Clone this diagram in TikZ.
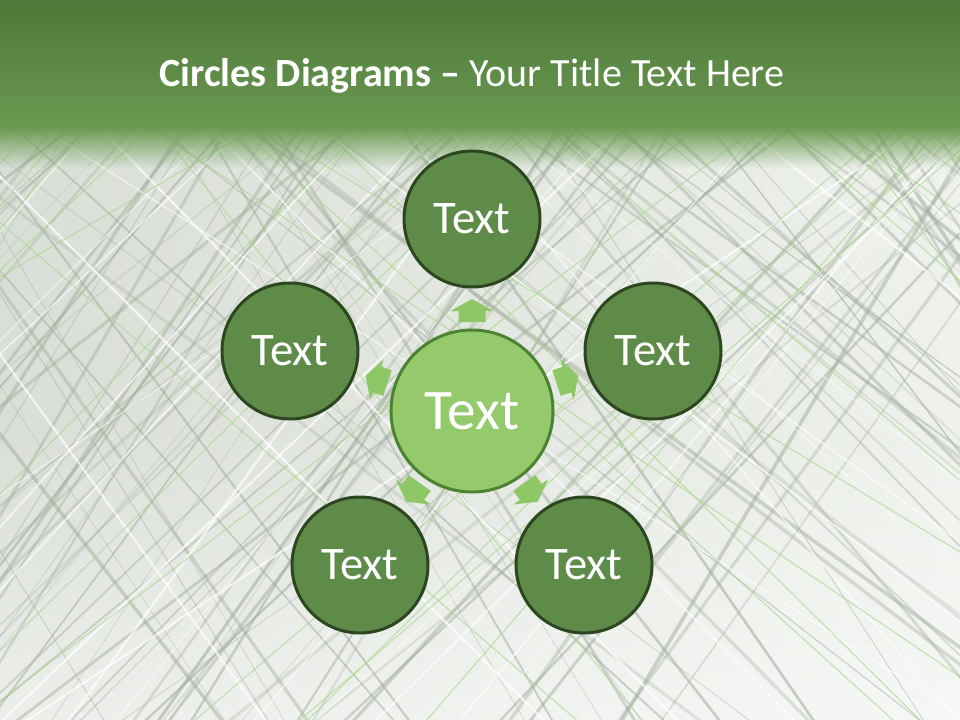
\documentclass[tikz,border=0pt]{standalone}
\usepackage{fontspec}
\setmainfont{Carlito}
\usetikzlibrary{fadings}
\definecolor{hdtop}{HTML}{4E7839}
\definecolor{hdbot}{HTML}{6A9A52}
\definecolor{bgbase}{HTML}{D9DED6}
\definecolor{bgright}{HTML}{EEF1EC}
\definecolor{lgray}{HTML}{A3AD9F}
\definecolor{lgreen}{HTML}{A6DA8C}
\definecolor{outerfill}{HTML}{5F8B49}
\definecolor{outerline}{HTML}{2C4720}
\definecolor{centerfill}{HTML}{94C96C}
\definecolor{centerline}{HTML}{4C8231}
\definecolor{arrowfill}{HTML}{8DC766}
\tikzset{
  outer/.style={circle, draw=outerline, line width=2.25pt, fill=outerfill,
    minimum size=102pt, inner sep=0pt, text=white, font=\fontsize{35}{40}\selectfont},
  center/.style={circle, draw=centerline, line width=2.25pt, fill=centerfill,
    minimum size=121.5pt, inner sep=0pt, text=white, font=\fontsize{43}{48}\selectfont},
  blockarrow/.style={fill=arrowfill, draw=none},
}
\begin{document}
\begin{tikzpicture}[x=0.75pt, y=-0.75pt]
\useasboundingbox (0,0) rectangle (960,720);
\begin{scope}
\clip (0,0) rectangle (960,720);
\shade[left color=bgbase, right color=bgright] (0,0) rectangle (960,720);
\fill[white, opacity=0.5, path fading=north] (0,420) rectangle (960,720);
\pgfmathsetseed{23}
\foreach \i in {1,...,160}{
  \pgfmathsetmacro{\xx}{rnd*1800-420}
  \pgfmathsetmacro{\ang}{ifthenelse(rnd<0.5, 35+rnd*25, 120+rnd*25)}
  \pgfmathsetmacro{\lw}{0.4+rnd*2.4}
  \pgfmathsetmacro{\op}{0.22+rnd*0.35}
  \draw[lgray, line width=\lw pt, opacity=\op] (\xx,-100) -- ++(\ang:1600);
}
\foreach \i in {1,...,70}{
  \pgfmathsetmacro{\xx}{rnd*1800-420}
  \pgfmathsetmacro{\ang}{ifthenelse(rnd<0.5, 30+rnd*25, 125+rnd*25)}
  \pgfmathsetmacro{\lw}{0.3+rnd*1.6}
  \draw[white, line width=\lw pt, opacity=0.7] (\xx,-100) -- ++(\ang:1600);
}
\foreach \i in {1,...,40}{
  \pgfmathsetmacro{\xx}{rnd*1800-420}
  \pgfmathsetmacro{\ang}{ifthenelse(rnd<0.5, 30+rnd*25, 125+rnd*25)}
  \draw[lgreen, line width=0.8pt, opacity=0.7] (\xx,-100) -- ++(\ang:1600);
}
\end{scope}
% header
\shade[top color=hdtop, bottom color=hdbot] (0,0) rectangle (960,128);
\fill[hdbot, path fading=south] (0,127) rectangle (960,168);
\node[text=white, font=\fontsize{30}{34}\selectfont, anchor=base] (title) at (472,87)
  {\textbf{Circles Diagrams –} Your Title Text Here};
% circles
\node[center] (c) at (472,411) {Text};
\node[outer] (n1) at (472,219) {Text};
\node[outer] (n2) at (653,351) {Text};
\node[outer] (n3) at (584,565) {Text};
\node[outer] (n4) at (360,565) {Text};
\node[outer] (n5) at (290,351) {Text};
% block arrows
\foreach \a in {90,18.3,-54,-126,161.7}{
  \begin{scope}[shift={(c.center)}, rotate=\a]
    \fill[blockarrow] (89,-13.5) -- (100,-13.5) -- (100,-21.5) -- (112,0)
      -- (100,21.5) -- (100,13.5) -- (89,13.5) -- cycle;
  \end{scope}
}
\end{tikzpicture}
\end{document}
